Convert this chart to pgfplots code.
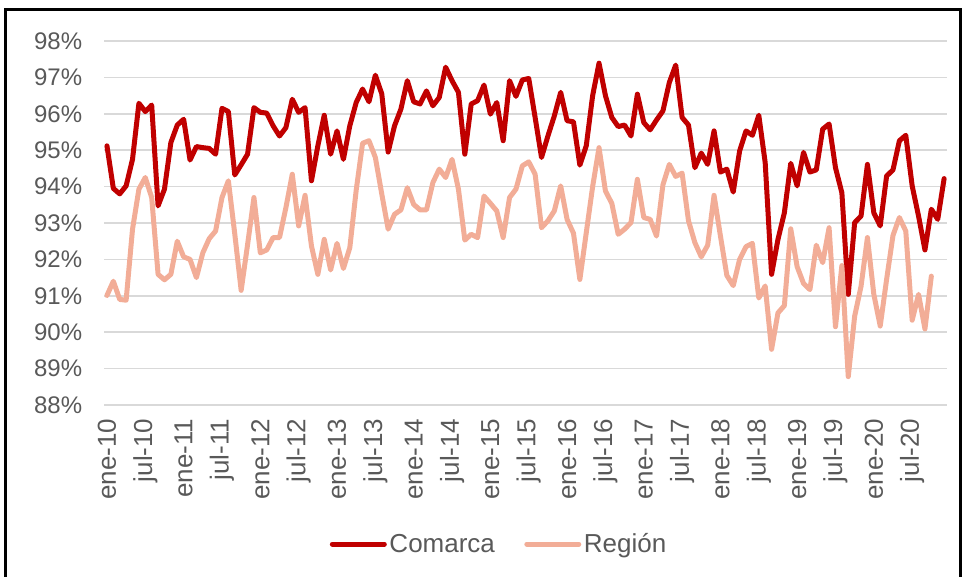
\documentclass[border=0pt]{standalone}
\usepackage{fontspec}
\setmainfont{Liberation Sans}
\usepackage{pgfplots}
\usepackage{pgfplotstable}
\pgfplotsset{compat=1.18}
\definecolor{comarca}{HTML}{C00000}
\definecolor{region}{HTML}{F2AD97}
\definecolor{txt}{HTML}{595959}
\definecolor{grd}{HTML}{D9D9D9}

\pgfplotstableread{
v
95.12
93.95
93.80
94.02
94.75
96.29
96.06
96.24
93.47
93.93
95.21
95.69
95.85
94.73
95.10
95.07
95.05
94.89
96.15
96.06
94.32
94.60
94.89
96.17
96.04
96.02
95.67
95.39
95.62
96.40
96.04
96.17
94.16
95.12
95.96
94.89
95.53
94.75
95.67
96.31
96.68
96.33
97.06
96.55
94.95
95.67
96.13
96.91
96.33
96.27
96.63
96.22
96.45
97.28
96.91
96.59
94.89
96.27
96.36
96.79
95.99
96.31
95.26
96.91
96.48
96.93
96.97
95.90
94.80
95.39
95.94
96.59
95.81
95.78
94.59
95.12
96.50
97.39
96.50
95.90
95.65
95.69
95.39
96.54
95.76
95.56
95.83
96.08
96.86
97.34
95.90
95.69
94.52
94.92
94.61
95.53
94.40
94.48
93.85
94.98
95.53
95.41
95.96
94.66
91.59
92.55
93.28
94.64
94.02
94.94
94.40
94.46
95.58
95.72
94.52
93.83
91.04
93.01
93.19
94.61
93.28
92.92
94.29
94.46
95.26
95.41
94.02
93.19
92.26
93.38
93.10
94.22
}\comarcatab

\pgfplotstableread{
v
91.01
91.40
90.90
90.88
92.83
93.93
94.25
93.70
91.59
91.44
91.59
92.50
92.07
92.00
91.50
92.18
92.57
92.78
93.70
94.16
92.70
91.15
92.40
93.70
92.18
92.26
92.60
92.60
93.42
94.34
92.92
93.76
92.37
91.59
92.55
91.71
92.44
91.75
92.32
93.90
95.19
95.26
94.80
93.80
92.83
93.24
93.36
93.97
93.51
93.36
93.36
94.11
94.48
94.25
94.75
93.93
92.53
92.69
92.60
93.74
93.54
93.33
92.60
93.70
93.93
94.57
94.68
94.34
92.87
93.06
93.33
94.02
93.10
92.72
91.45
92.73
94.00
95.07
93.88
93.54
92.69
92.83
93.01
94.20
93.15
93.10
92.64
94.05
94.61
94.28
94.37
93.06
92.46
92.07
92.39
93.76
92.64
91.56
91.28
92.00
92.35
92.44
90.94
91.27
89.53
90.53
90.73
92.84
91.80
91.34
91.17
92.39
91.91
92.87
90.15
91.83
88.78
90.44
91.26
92.60
91.04
90.17
91.45
92.66
93.15
92.78
90.33
91.04
90.09
91.54
}\regiontab

\begin{document}
\begin{tikzpicture}[x=1pt,y=1pt]
\path[use as bounding box] (0,0) rectangle (722.25,432);
\draw[line width=2.25pt, black] (3.75,-5) -- (3.75,424.5) -- (720,424.5) -- (720,-5);
\begin{axis}[
  at={(78.3pt,128.25pt)}, anchor=south west,
  scale only axis, width=631.7pt, height=273pt,
  xmin=-0.4, xmax=131.4, ymin=88, ymax=98,
  clip=false,
  axis line style={draw=none},
  major tick length=0pt,
  ymajorgrids, grid style={grd, line width=1.3pt},
  ytick={88,89,...,98},
  yticklabels={88\%,89\%,90\%,91\%,92\%,93\%,94\%,95\%,96\%,97\%,98\%},
  xtick={0,6,...,126},
  xticklabels={ene-10,jul-10,ene-11,jul-11,ene-12,jul-12,ene-13,jul-13,ene-14,jul-14,ene-15,jul-15,ene-16,jul-16,ene-17,jul-17,ene-18,jul-18,ene-19,jul-19,ene-20,jul-20},
  yticklabel style={anchor=east, inner xsep=16.5pt, inner ysep=0pt, font=\fontsize{18}{20}\selectfont, text=txt},
  xticklabel style={rotate=90, anchor=east, inner xsep=10pt, inner ysep=0pt, font=\fontsize{19.5}{21}\selectfont, text=txt},
  legend style={at={(0.469,-0.382)}, anchor=center, draw=none, fill=none,
    legend columns=-1, font=\fontsize{19.5}{22}\selectfont, text=txt,
    /tikz/every even column/.append style={column sep=20pt},
    nodes={inner sep=2pt}},
  legend image code/.code={\draw[#1, line width=3.75pt, line cap=round] (0pt,0pt) -- (39pt,0pt);},
]
\addplot[comarca, line width=3.75pt, line join=round, line cap=round, mark=none] table[x expr=\coordindex, y=v] {\comarcatab};
\addlegendentry{Comarca}
\addplot[region, line width=3.75pt, line join=round, line cap=round, mark=none] table[x expr=\coordindex, y=v] {\regiontab};
\addlegendentry{Región}
\end{axis}
\end{tikzpicture}
\end{document}
